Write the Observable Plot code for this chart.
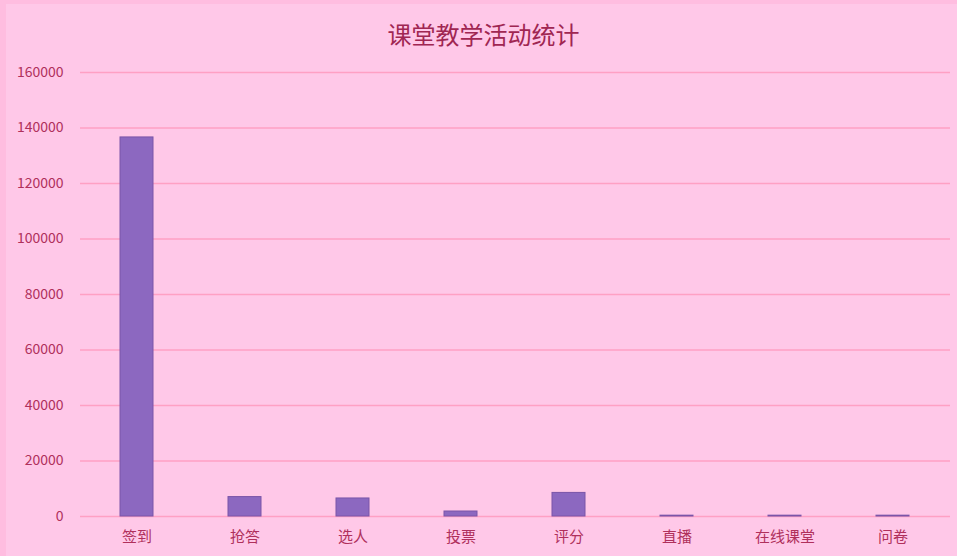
<!DOCTYPE html>
<html><head><meta charset="utf-8">
<script src="https://cdn.jsdelivr.net/npm/d3@7"></script>
<script src="https://cdn.jsdelivr.net/npm/@observablehq/plot@0.6"></script>
<style>
body{margin:0;background:#ffbde0;}
#wrap{position:relative;width:957px;height:556px;background:#ffbde0;overflow:hidden;}
#panel{position:absolute;left:6px;top:4px;right:0;bottom:0;background:#ffc8e8;}
#title{position:absolute;left:5px;width:957px;top:16px;text-align:center;font-family:"Noto Sans CJK SC",sans-serif;font-size:24px;color:#a02652;line-height:36px;}
#chart{position:absolute;left:0;top:50px;}
</style></head>
<body><div id="wrap"><div id="panel"></div><div id="title">课堂教学活动统计</div><div id="chart"></div></div>
<script>
const categories = ["签到","抢答","选人","投票","评分","直播","在线课堂","问卷"];
const values = [136600, 7000, 6500, 1800, 8500, 300, 300, 300];
const yTicks = [0,20000,40000,60000,80000,100000,120000,140000,160000];
const data = categories.map((c,i)=>({cat:c, v:values[i]}));
const plot = Plot.plot({
  width: 957, height: 506,
  marginTop: 22, marginBottom: 40, marginLeft: 80, marginRight: 7,
  style:{background:"transparent", fontFamily:"'Noto Sans CJK SC', sans-serif", color:"#b0305c"},
  x:{domain:categories, paddingInner:0.69, paddingOuter:0.345, label:null},
  y:{domain:[0,160000], label:null},
  marks:[
    Plot.ruleY(yTicks,{stroke:"#ffa0c4", strokeWidth:1.3}),
    Plot.barY(data,{x:"cat", y:"v", fill:"#8c68c0", stroke:"#7a55a8", strokeWidth:1}),
    Plot.axisY({ticks:yTicks, tickSize:0, tickPadding:17, tickFormat:d=>String(d), fontSize:14, fill:"#b0305c"}),
    Plot.axisX({tickSize:0, tickPadding:15, fontSize:15, fill:"#b0305c"})
  ]
});
document.getElementById("chart").appendChild(plot);
</script></body></html>
